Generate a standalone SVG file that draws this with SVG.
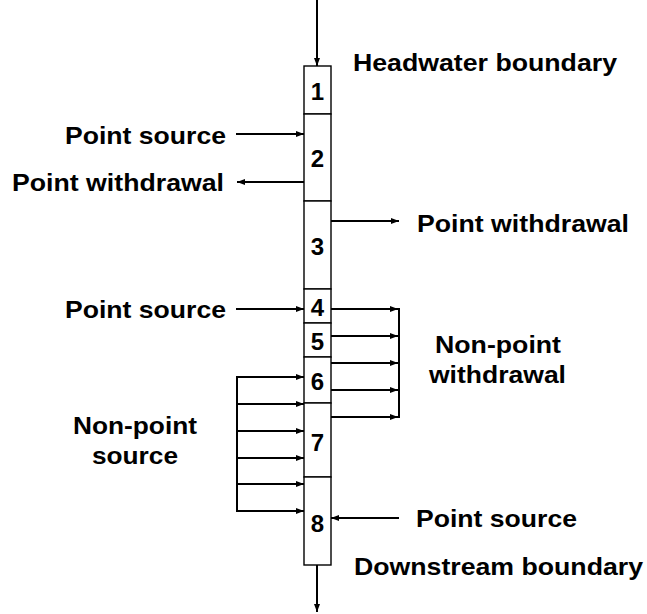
<svg xmlns="http://www.w3.org/2000/svg" width="647" height="614" viewBox="0 0 647 614">
<style>
.box{fill:#fff;stroke:#000;stroke-width:1.4}
.ln{fill:none;stroke:#000;stroke-width:2}
.lbl{font-family:"Liberation Sans",Arial,sans-serif;font-weight:bold;font-size:24px;fill:#000}
.num{font-family:"Liberation Sans",Arial,sans-serif;font-weight:bold;font-size:24px;fill:#000;text-anchor:middle}
</style>
<defs>
<marker id="ah" markerUnits="userSpaceOnUse" markerWidth="9" markerHeight="7" refX="8" refY="3" orient="auto">
<path d="M0,0 L8,3 L0,6 z" fill="#000"/>
</marker>
</defs>
<g id="connectors">
<line class="ln" x1="317" y1="0" x2="317" y2="66" marker-end="url(#ah)"/>
<line class="ln" x1="317" y1="565" x2="317" y2="612" marker-end="url(#ah)"/>
<line class="ln" x1="236" y1="134" x2="304" y2="134" marker-end="url(#ah)"/>
<line class="ln" x1="304" y1="182" x2="237" y2="182" marker-end="url(#ah)"/>
<line class="ln" x1="331" y1="221" x2="399" y2="221" marker-end="url(#ah)"/>
<line class="ln" x1="236" y1="309" x2="304" y2="309" marker-end="url(#ah)"/>
<line class="ln" x1="399" y1="518" x2="331" y2="518" marker-end="url(#ah)"/>
<g id="nonpoint-withdrawal-arrows">
<line class="ln" x1="399" y1="308" x2="399" y2="418"/>
<line class="ln" x1="331" y1="309" x2="398" y2="309" marker-end="url(#ah)"/>
<line class="ln" x1="331" y1="336" x2="398" y2="336" marker-end="url(#ah)"/>
<line class="ln" x1="331" y1="363" x2="398" y2="363" marker-end="url(#ah)"/>
<line class="ln" x1="331" y1="390" x2="398" y2="390" marker-end="url(#ah)"/>
<line class="ln" x1="331" y1="417" x2="398" y2="417" marker-end="url(#ah)"/>
</g>
<g id="nonpoint-source-arrows">
<line class="ln" x1="237" y1="376" x2="237" y2="512"/>
<line class="ln" x1="236" y1="377" x2="304" y2="377" marker-end="url(#ah)"/>
<line class="ln" x1="237" y1="404" x2="304" y2="404" marker-end="url(#ah)"/>
<line class="ln" x1="237" y1="431" x2="304" y2="431" marker-end="url(#ah)"/>
<line class="ln" x1="237" y1="458" x2="304" y2="458" marker-end="url(#ah)"/>
<line class="ln" x1="237" y1="484" x2="304" y2="484" marker-end="url(#ah)"/>
<line class="ln" x1="236" y1="511" x2="304" y2="511" marker-end="url(#ah)"/>
</g>
</g>
<g id="seg1"><rect class="box" x="304" y="66" width="27" height="48"/><text class="num" x="317.5" y="100">1</text></g>
<g id="seg2"><rect class="box" x="304" y="114" width="27" height="87"/><text class="num" x="317.5" y="167">2</text></g>
<g id="seg3"><rect class="box" x="304" y="201" width="27" height="88"/><text class="num" x="317.5" y="255">3</text></g>
<g id="seg4"><rect class="box" x="304" y="289" width="27" height="34"/><text class="num" x="317.5" y="316">4</text></g>
<g id="seg5"><rect class="box" x="304" y="323" width="27" height="34"/><text class="num" x="317.5" y="350">5</text></g>
<g id="seg6"><rect class="box" x="304" y="357" width="27" height="46"/><text class="num" x="317.5" y="390">6</text></g>
<g id="seg7"><rect class="box" x="304" y="403" width="27" height="74"/><text class="num" x="317.5" y="451">7</text></g>
<g id="seg8"><rect class="box" x="304" y="477" width="27" height="88"/><text class="num" x="317.5" y="532">8</text></g>
<g id="labels">
<text class="lbl" x="353" y="71" textLength="264" lengthAdjust="spacingAndGlyphs">Headwater boundary</text>
<text class="lbl" x="65" y="144" textLength="161" lengthAdjust="spacingAndGlyphs">Point source</text>
<text class="lbl" x="12" y="191" textLength="212" lengthAdjust="spacingAndGlyphs">Point withdrawal</text>
<text class="lbl" x="417" y="232" textLength="212" lengthAdjust="spacingAndGlyphs">Point withdrawal</text>
<text class="lbl" x="65" y="318" textLength="161" lengthAdjust="spacingAndGlyphs">Point source</text>
<text class="lbl" x="435" y="353" textLength="126" lengthAdjust="spacingAndGlyphs">Non-point</text>
<text class="lbl" x="429" y="383" textLength="137" lengthAdjust="spacingAndGlyphs">withdrawal</text>
<text class="lbl" x="73" y="434" textLength="124" lengthAdjust="spacingAndGlyphs">Non-point</text>
<text class="lbl" x="92" y="464" textLength="86" lengthAdjust="spacingAndGlyphs">source</text>
<text class="lbl" x="416" y="527" textLength="161" lengthAdjust="spacingAndGlyphs">Point source</text>
<text class="lbl" x="354" y="575" textLength="289" lengthAdjust="spacingAndGlyphs">Downstream boundary</text>
</g>
</svg>
